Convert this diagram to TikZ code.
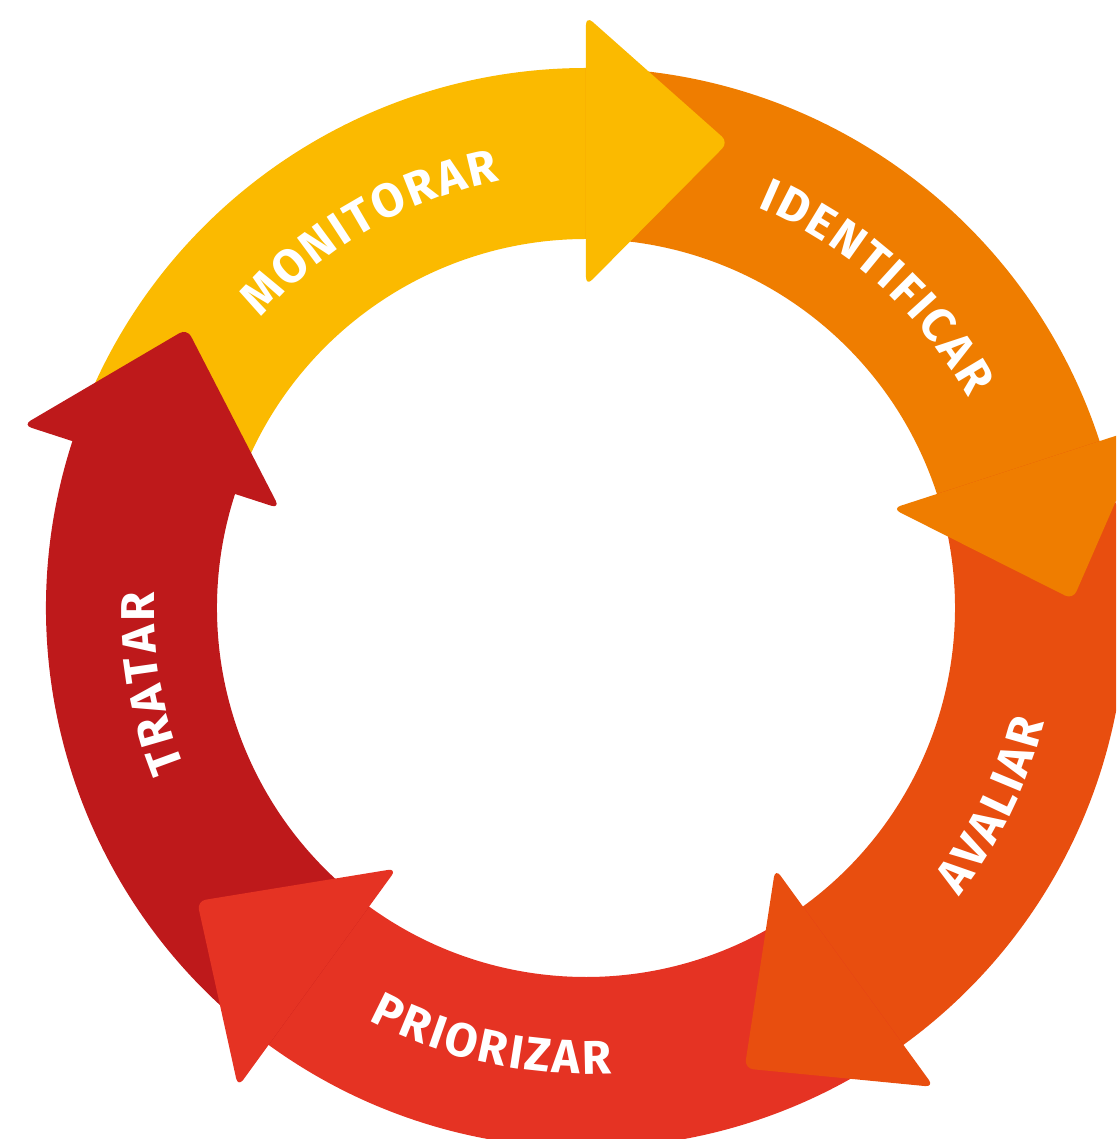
\documentclass[tikz,border=0pt]{standalone}
\usepackage{fontspec}
\usetikzlibrary{decorations.text}
\newfontfamily\stepfont{Fira Sans}
\newcommand\stepfmt{\stepfont\bfseries\fontsize{27}{27}\selectfont\kern1.5pt}
\definecolor{monitorar}{HTML}{FBBA00}
\definecolor{identificar}{HTML}{EF7D00}
\definecolor{avaliar}{HTML}{E84E0F}
\definecolor{priorizar}{HTML}{E53323}
\definecolor{tratar}{HTML}{BE191B}
\tikzstyle{head} = [rounded corners=5pt]
\tikzstyle{steptext} = [decorate, decoration={text along path, text align=center, text color=white}]

\begin{document}
\begin{tikzpicture}[x=0.02cm, y=0.02cm]
	\useasboundingbox (-586,-531) rectangle (530,608);
	\clip (-586,-531) rectangle (530,608);

	% ring pieces, one per step
	\foreach \s/\c in {162/monitorar, 90/identificar, 18/avaliar, -54/priorizar, -126/tratar}
		\fill[\c] (\s:540) arc[start angle=\s, end angle=\s-73, radius=540]
			-- ({\s-73}:369) arc[start angle=\s-73, end angle=\s, radius=369] -- cycle;

	% heads go on top of the next piece
	\foreach \s/\c in {162/monitorar, 90/identificar, 18/avaliar, -54/priorizar, -126/tratar}
		\fill[\c, head] ({\s-72}:592) -- ({\s-89}:487) -- ({\s-72}:322) -- cycle;

	% step names
	\path[steptext, decoration={text={|\stepfmt|MONITORAR}}] (170:436) arc[start angle=170, end angle=70, radius=436];
	\path[steptext, decoration={text={|\stepfmt|IDENTIFICAR}}] (98:436) arc[start angle=98, end angle=-2, radius=436];
	\path[steptext, decoration={text={|\stepfmt|AVALIAR}}] (-76:472) arc[start angle=-76, end angle=24, radius=472];
	\path[steptext, decoration={text={|\stepfmt|PRIORIZAR}}] (207.5:466) arc[start angle=207.5, end angle=307.5, radius=466];
	\path[steptext, decoration={text={|\stepfmt|TRATAR}}] (240:432) arc[start angle=240, end angle=140, radius=432];
\end{tikzpicture}
\end{document}
